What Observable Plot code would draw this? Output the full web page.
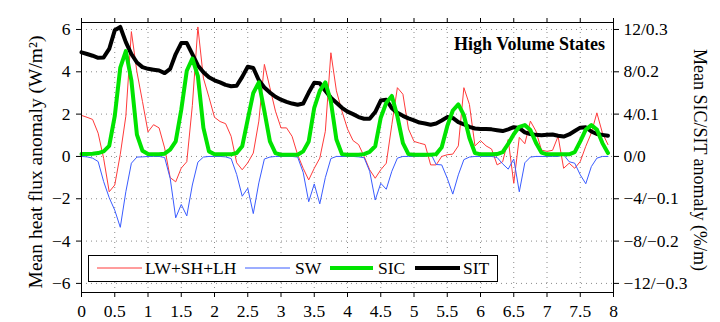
<!DOCTYPE html>
<html>
<head>
<meta charset="utf-8">
<script src="https://cdn.jsdelivr.net/npm/d3@7"></script>
<script src="https://cdn.jsdelivr.net/npm/@observablehq/plot@0.6"></script>
<style>
  html, body { margin: 0; padding: 0; background: white; }
  svg { display: block; }
</style>
</head>
<body>
<div id="chart"></div>
<script>
// Monthly composite anomalies, 8 years (96 months)
const lwShLh = [
  1.94, 1.85, 1.75, 1.1, -0.1, -1.67, -1.35, 0.1, 1.9, 5.9, 4.0, 2.6,
  1.16, 1.5, 1.35, 0.4, -1.0, -1.2, -0.55, -0.25, 2.4, 6.12, 3.7, 2.8,
  1.85, 1.65, 1.55, 0.95, -0.3, -0.63, -0.3, 0.16, 1.67, 4.35, 3.25, 2.14,
  1.35, 1.35, 0.95, 0.08, -0.56, -1.11, -0.56, -0.08, 1.19, 4.9, 3.1, 2.14,
  1.3, 0.75, 0.56, 0.0, -0.63, -1.03, -0.63, -0.32, 1.5, 3.25, 2.94, 1.3,
  0.71, 0.63, 0.56, -0.4, -0.4, 0.0, 0.08, 0.11, 0.5, 3.25, 2.46, 0.5,
  0.75, 0.5, 0.35, -0.4, -0.25, 0.8, -1.27, 0.9, 0.6, 1.67, 1.2, 0.3,
  0.24, 0.29, 0.95, -0.56, -0.32, -0.56, -0.24, 0.48, 1.11, 2.06, 1.11, 0.56
];
const sw = [
  0, -0.02, -0.08, -0.24, -1.19, -1.95, -2.54, -3.35, -1.67, -0.32, -0.03, -0.02,
  0, 0, 0, -0.05, -1.03, -2.9, -2.27, -2.81, -1.35, -0.27, -0.03, 0,
  0, 0, -0.02, -0.1, -0.85, -1.88, -1.5, -2.7, -1.25, -0.12, -0.03, 0,
  0, 0, 0, -0.03, -0.75, -2.14, -1.3, -2.24, -1.0, -0.1, 0, 0,
  0, 0, -0.02, -0.06, -0.7, -2.06, -1.27, -1.55, -0.7, -0.08, 0, 0,
  0, 0, 0, 0.15, -0.38, -0.4, -1.03, -1.78, -0.87, -0.15, -0.03, 0,
  0, 0, 0, -0.05, -0.35, -0.6, -0.12, -1.67, -0.3, -0.03, 0, 0,
  0, 0, 0, 0.08, -0.25, -0.32, -0.87, -1.29, -0.48, -0.08, 0, 0
];
// SIC anomaly in %
const sicPct = [
  0.24, 0.24, 0.26, 0.32, 0.48, 1.0, 3.8, 8.4, 9.96, 7.2, 2.06, 0.54,
  0.24, 0.2, 0.2, 0.26, 0.64, 1.42, 4.4, 8.1, 9.26, 7.6, 2.7, 0.48,
  0.2, 0.2, 0.2, 0.2, 0.32, 0.96, 3.5, 6.0, 7.0, 4.28, 1.42, 0.32,
  0.16, 0.16, 0.16, 0.16, 0.48, 1.42, 4.6, 6.2, 7.0, 5.2, 1.6, 0.22,
  0.16, 0.16, 0.16, 0.22, 0.44, 0.96, 3.66, 5.08, 5.72, 3.8, 1.26, 0.22,
  0.16, 0.16, 0.16, 0.16, 0.22, 0.86, 2.86, 4.34, 4.92, 3.9, 1.74, 0.32,
  0.2, 0.2, 0.2, 0.22, 0.4, 1.2, 2.1, 2.8, 2.96, 2.5, 1.3, 0.36,
  0.2, 0.2, 0.2, 0.2, 0.2, 0.4, 1.42, 2.54, 2.96, 2.54, 1.26, 0.32
];
// SIT anomaly in m
const sitM = [
  0.246, 0.242, 0.238, 0.233, 0.234, 0.254, 0.298, 0.306, 0.27, 0.242, 0.222, 0.211,
  0.207, 0.205, 0.203, 0.197, 0.207, 0.242, 0.268, 0.268, 0.242, 0.215, 0.199, 0.187,
  0.18, 0.175, 0.169, 0.166, 0.167, 0.188, 0.212, 0.209, 0.18, 0.163, 0.151, 0.141,
  0.134, 0.129, 0.125, 0.122, 0.125, 0.151, 0.174, 0.173, 0.155, 0.139, 0.127, 0.115,
  0.106, 0.1, 0.093, 0.089, 0.089, 0.105, 0.132, 0.134, 0.114, 0.103, 0.096, 0.09,
  0.085, 0.08, 0.078, 0.075, 0.078, 0.085, 0.093, 0.091, 0.081, 0.076, 0.07, 0.066,
  0.065, 0.065, 0.064, 0.062, 0.06, 0.064, 0.069, 0.067, 0.057, 0.053, 0.051, 0.05,
  0.051, 0.052, 0.049, 0.047, 0.052, 0.06, 0.068, 0.069, 0.059, 0.053, 0.051, 0.049
];

const xTicks = [0, 0.5, 1, 1.5, 2, 2.5, 3, 3.5, 4, 4.5, 5, 5.5, 6, 6.5, 7, 7.5, 8];
const xTickLabels = ["0", "0.5", "1", "1.5", "2", "2.5", "3", "3.5", "4", "4.5", "5", "5.5", "6", "6.5", "7", "7.5", "8"];
const yTicks = [-6, -4, -2, 0, 2, 4, 6];
const yTickLabels = ["\u22126", "\u22124", "\u22122", "0", "2", "4", "6"];
const y2TickLabels = ["\u221212/\u22120.3", "\u22128/\u22120.2", "\u22124/\u22120.1", "0/0", "4/0.1", "8/0.2", "12/0.3"];

const seriesNames = ["LW+SH+LH", "SW", "SIC", "SIT"];
const seriesColors = ["#ff3a3a", "#3a5cff", "#00e400", "#000000"];
const seriesWidths = [1, 1, 4, 4];
const title = "High Volume States";
const yLabel = "Mean heat flux anomaly (W/m\u00B2)";
const y2Label = "Mean SIC/SIT anomaly (%/m)";

// Right axis: 2 % SIC per left unit, 0.05 m SIT per left unit
const sicScale = 2, sitScale = 0.05;

const rows = lwShLh.map((v, i) => ({
  t: i / 12,
  lw: v,
  sw: sw[i],
  sic: sicPct[i] / sicScale,
  sit: sitM[i] / sitScale
}));

const font = "'Liberation Serif', 'Times New Roman', serif";
const gridStyle = {stroke: "#8a8a8a", strokeOpacity: 1, strokeDasharray: "1,4", strokeWidth: 1};

const chart = Plot.plot({
  width: 720,
  height: 322,
  marginLeft: 81,
  marginRight: 107,
  marginTop: 22,
  marginBottom: 30,
  style: {fontFamily: font, fontSize: "17.5px", background: "white", color: "black"},
  x: {domain: [0, 8]},
  y: {domain: [-6.43, 6.33]},
  marks: [
    Plot.ruleX(xTicks.slice(1, -1), gridStyle),
    Plot.ruleY(yTicks, gridStyle),
    Plot.line(rows, {x: "t", y: "lw", stroke: seriesColors[0], strokeWidth: seriesWidths[0]}),
    Plot.line(rows, {x: "t", y: "sw", stroke: seriesColors[1], strokeWidth: seriesWidths[1]}),
    Plot.line(rows, {x: "t", y: "sit", stroke: seriesColors[3], strokeWidth: seriesWidths[3], strokeLinejoin: "round"}),
    Plot.line(rows, {x: "t", y: "sic", stroke: seriesColors[2], strokeWidth: seriesWidths[2], strokeLinejoin: "round"}),
    Plot.frame({stroke: "black", strokeWidth: 1}),
    Plot.axisX({anchor: "bottom", ticks: xTicks, tickSize: 5, tickPadding: 7, label: null,
      tickFormat: d => xTickLabels[xTicks.indexOf(d)]}),
    Plot.axisX({anchor: "top", ticks: xTicks, tickSize: 5, label: null, tickFormat: () => ""}),
    Plot.axisY({anchor: "left", ticks: yTicks, tickSize: 5, tickPadding: 6, label: null,
      tickFormat: d => yTickLabels[yTicks.indexOf(d)]}),
    Plot.axisY({anchor: "right", ticks: yTicks, tickSize: 5, tickPadding: 5, label: null,
      tickFormat: d => y2TickLabels[yTicks.indexOf(d)]})
  ]
});

document.getElementById("chart").appendChild(chart);

const svg = d3.select(chart);

// Title inside plot area
svg.append("text")
  .attr("x", 605).attr("y", 50)
  .attr("text-anchor", "end")
  .attr("font-family", font).attr("font-weight", "bold").attr("font-size", "18px")
  .attr("fill", "black")
  .text(title);

// Axis labels
svg.append("text")
  .attr("transform", "translate(42,162) rotate(-90)")
  .attr("text-anchor", "middle")
  .attr("font-family", font).attr("font-size", "19.5px").attr("fill", "black")
  .text(yLabel);

svg.append("text")
  .attr("transform", "translate(694,160) rotate(90)")
  .attr("text-anchor", "middle")
  .attr("font-family", font).attr("font-size", "18px").attr("fill", "black")
  .text(y2Label);

// Legend box
const lg = svg.append("g").attr("text-anchor", "start");
lg.append("rect")
  .attr("x", 88.5).attr("y", 255.5).attr("width", 409).attr("height", 26)
  .attr("fill", "white").attr("stroke", "black").attr("stroke-width", 1);
const legendLayout = [
  {x1: 97, x2: 142, tx: 145},
  {x1: 245, x2: 290, tx: 295},
  {x1: 330, x2: 373, tx: 378},
  {x1: 415, x2: 460, tx: 463}
];
seriesNames.forEach((name, i) => {
  const L = legendLayout[i];
  lg.append("line")
    .attr("x1", L.x1).attr("x2", L.x2).attr("y1", 268).attr("y2", 268)
    .attr("stroke", seriesColors[i]).attr("stroke-width", seriesWidths[i]);
  lg.append("text")
    .attr("x", L.tx).attr("y", 274)
    .attr("text-anchor", "start")
    .attr("font-family", font).attr("font-size", "17.5px").attr("fill", "black")
    .text(name);
});
</script>
</body>
</html>
